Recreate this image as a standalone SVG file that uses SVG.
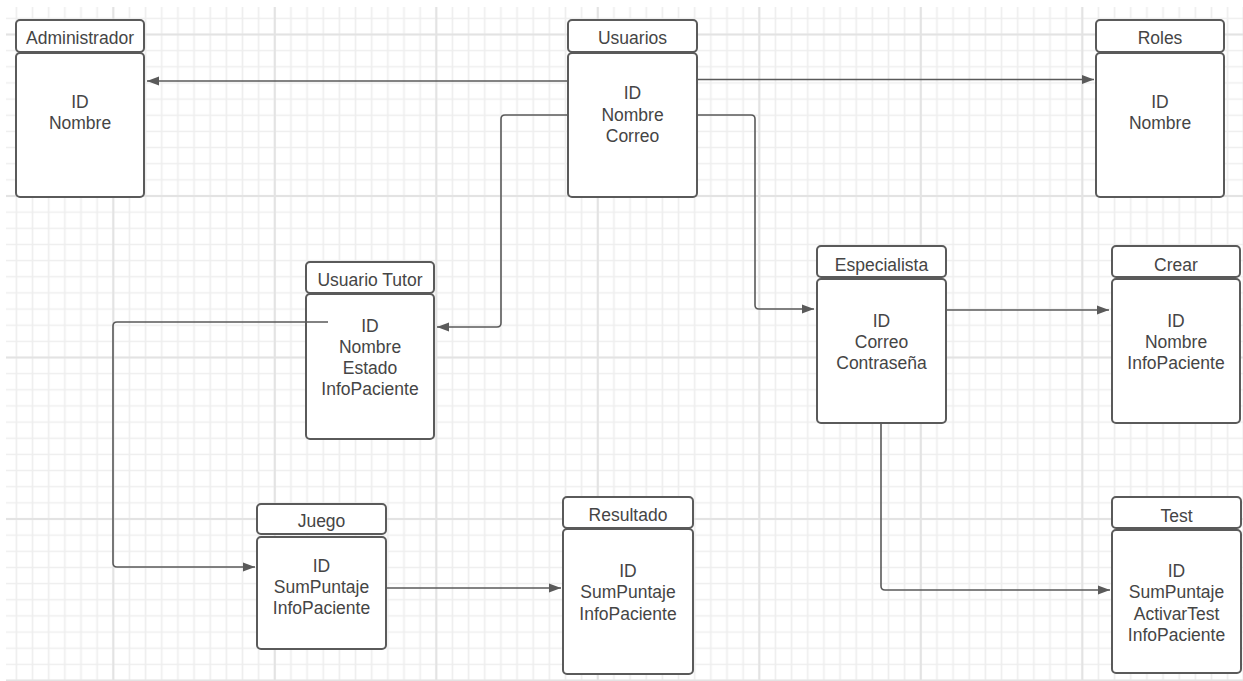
<svg xmlns="http://www.w3.org/2000/svg" width="1243" height="681" viewBox="0 0 1243 681">
<style>
.box{fill:#fff;stroke:#5a5a5a;stroke-width:2}
.hd{font-family:"Liberation Sans",Arial,sans-serif;font-size:17.5px;fill:#454545;text-anchor:middle}
.bd{font-family:"Liberation Sans",Arial,sans-serif;font-size:17.5px;fill:#454545;text-anchor:middle}
.cn{fill:none;stroke:#5a5a5a;stroke-width:1.6;stroke-linejoin:round;marker-end:url(#ah)}
</style>
<defs>
<pattern id="minor" patternUnits="userSpaceOnUse" x="105.225" y="26.425" width="16.15" height="16.15">
<path d="M8.075 0V16.15M0 8.075H16.15" stroke="#eeeeee" stroke-width="1.6" fill="none"/>
</pattern>
<pattern id="major" patternUnits="userSpaceOnUse" x="32.55" y="-46.25" width="161.5" height="161.5">
<path d="M80.75 0V161.5M0 80.75H161.5" stroke="#e3e3e3" stroke-width="2" fill="none"/>
</pattern>
<marker id="ah" markerUnits="userSpaceOnUse" markerWidth="14" markerHeight="12" refX="12" refY="5" orient="auto">
<path d="M0 0.5L12 5L0 9.5Z" fill="#5a5a5a"/>
</marker>
</defs>
<rect width="1243" height="681" fill="#fff"/>
<g id="grid">
<rect x="6" y="7" width="1237" height="674" fill="url(#minor)"/>
<rect x="6" y="7" width="1237" height="674" fill="url(#major)"/>
</g>
<g id="administrador">
<rect class="box" x="16" y="20" width="128" height="32" rx="4"/>
<rect class="box" x="16" y="53" width="128" height="144" rx="4"/>
<text class="hd" x="80" y="44">Administrador</text>
<text class="bd" x="80" y="108">ID</text>
<text class="bd" x="80" y="129">Nombre</text>
</g>
<g id="usuarios">
<rect class="box" x="568" y="20" width="129" height="32" rx="4"/>
<rect class="box" x="568" y="53" width="129" height="144" rx="4"/>
<text class="hd" x="632.5" y="44">Usuarios</text>
<text class="bd" x="632.5" y="99">ID</text>
<text class="bd" x="632.5" y="120.5">Nombre</text>
<text class="bd" x="632.5" y="141.5">Correo</text>
</g>
<g id="roles">
<rect class="box" x="1096" y="20" width="128" height="32" rx="4"/>
<rect class="box" x="1096" y="53" width="128" height="144" rx="4"/>
<text class="hd" x="1160" y="44">Roles</text>
<text class="bd" x="1160" y="108">ID</text>
<text class="bd" x="1160" y="129">Nombre</text>
</g>
<g id="usuario-tutor">
<rect class="box" x="306" y="262" width="128" height="31" rx="4"/>
<rect class="box" x="306" y="294" width="128" height="145" rx="4"/>
<text class="hd" x="370" y="285.5">Usuario Tutor</text>
<text class="bd" x="370" y="331.5">ID</text>
<text class="bd" x="370" y="352.5">Nombre</text>
<text class="bd" x="370" y="374">Estado</text>
<text class="bd" x="370" y="395">InfoPaciente</text>
</g>
<g id="especialista">
<rect class="box" x="817" y="246" width="129" height="31" rx="4"/>
<rect class="box" x="817" y="279" width="129" height="144" rx="4"/>
<text class="hd" x="881.5" y="270.5">Especialista</text>
<text class="bd" x="881.5" y="326.5">ID</text>
<text class="bd" x="881.5" y="348">Correo</text>
<text class="bd" x="881.5" y="369">Contraseña</text>
</g>
<g id="crear">
<rect class="box" x="1112" y="246" width="128" height="31" rx="4"/>
<rect class="box" x="1112" y="279" width="128" height="144" rx="4"/>
<text class="hd" x="1176" y="270.5">Crear</text>
<text class="bd" x="1176" y="326.5">ID</text>
<text class="bd" x="1176" y="348">Nombre</text>
<text class="bd" x="1176" y="369">InfoPaciente</text>
</g>
<g id="juego">
<rect class="box" x="257" y="504" width="129" height="30" rx="4"/>
<rect class="box" x="257" y="537" width="129" height="112" rx="4"/>
<text class="hd" x="321.5" y="527">Juego</text>
<text class="bd" x="321.5" y="571.5">ID</text>
<text class="bd" x="321.5" y="592.5">SumPuntaje</text>
<text class="bd" x="321.5" y="614">InfoPaciente</text>
</g>
<g id="resultado">
<rect class="box" x="563" y="497" width="130" height="31" rx="4"/>
<rect class="box" x="563" y="529" width="130" height="145" rx="4"/>
<text class="hd" x="628" y="520.5">Resultado</text>
<text class="bd" x="628" y="577">ID</text>
<text class="bd" x="628" y="598">SumPuntaje</text>
<text class="bd" x="628" y="619.5">InfoPaciente</text>
</g>
<g id="test">
<rect class="box" x="1112" y="497" width="129" height="31" rx="4"/>
<rect class="box" x="1112" y="530" width="129" height="143" rx="4"/>
<text class="hd" x="1176.5" y="521.5">Test</text>
<text class="bd" x="1176.5" y="577">ID</text>
<text class="bd" x="1176.5" y="598">SumPuntaje</text>
<text class="bd" x="1176.5" y="619.5">ActivarTest</text>
<text class="bd" x="1176.5" y="641">InfoPaciente</text>
</g>
<g id="connectors">
<path class="cn" d="M568 81H147"/>
<path class="cn" d="M697 79.5H1094"/>
<path class="cn" d="M568 115H505Q501 115 501 119V323Q501 327 497 327H437"/>
<path class="cn" d="M697 115H751Q755 115 755 119V305Q755 309 759 309H814"/>
<path class="cn" d="M946 310H1109"/>
<path class="cn" d="M881 423V586Q881 590 885 590H1110"/>
<path class="cn" d="M328 322H117Q113 322 113 326V563Q113 567 117 567H255"/>
<path class="cn" d="M386 588H561"/>
</g>
</svg>
